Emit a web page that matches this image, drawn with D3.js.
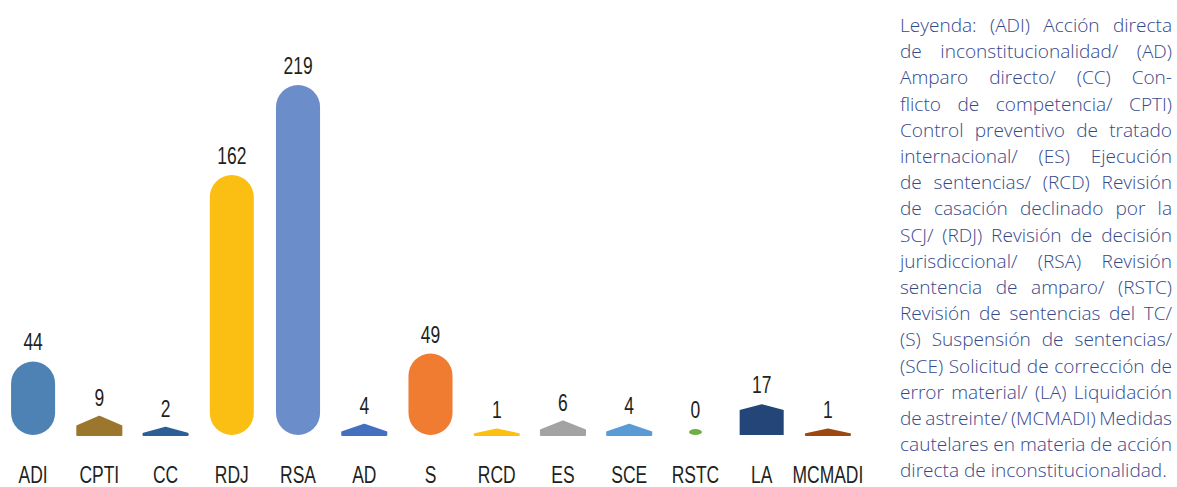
<!DOCTYPE html>
<html><head><meta charset="utf-8">
<script src="https://cdn.jsdelivr.net/npm/d3@7"></script>
<style>body{margin:0;background:#fff}svg{display:block}</style>
</head><body>
<svg id="c" width="1177" height="487"></svg>
<script>
const categories = ["ADI","CPTI","CC","RDJ","RSA","AD","S","RCD","ES","SCE","RSTC","LA","MCMADI"];
const values = [44, 9, 2, 162, 219, 4, 49, 1, 6, 4, 0, 17, 1];
const palette = ["#4e82b4","#9b772d","#2c5f96","#fbbf14","#6b8dc9","#4371c0","#ef7c31","#fdc00f","#a3a3a3","#5b9bd5","#6fad46","#244577","#9d4810"];
const legendLines = [
 "Leyenda: (ADI) Acción directa",
 "de inconstitucionalidad/ (AD)",
 "Amparo directo/ (CC) Con-",
 "flicto de competencia/ CPTI)",
 "Control preventivo de tratado",
 "internacional/ (ES) Ejecución",
 "de sentencias/ (RCD) Revisión",
 "de casación declinado por la",
 "SCJ/ (RDJ) Revisión de decisión",
 "jurisdiccional/ (RSA) Revisión",
 "sentencia de amparo/ (RSTC)",
 "Revisión de sentencias del TC/",
 "(S) Suspensión de sentencias/",
 "(SCE) Solicitud de corrección de",
 "error material/ (LA) Liquidación",
 "de astreinte/ (MCMADI) Medidas",
 "cautelares en materia de acción",
 "directa de inconstitucionalidad."
];

const svg = d3.select("#c");
const baseline = 435;
const x = d3.scaleBand().domain(categories).range([0, 861]).paddingInner(0.335).paddingOuter(0.167);
const y = d3.scaleLinear().domain([0, 219]).range([431, 85]);
const color = d3.scaleOrdinal().domain(categories).range(palette);
const data = categories.map((c, i) => ({c, v: values[i]}));
const cxOf = d => x(d.c) + x.bandwidth()/2;

function shape(d) {
  const w = x.bandwidth(), r = w / 2, cx = x(d.c) + r;
  const yt = y(d.v), h = baseline - yt;
  if (h >= w) {
    return `M${cx-r},${baseline-r}L${cx-r},${yt+r}A${r},${r} 0 0 1 ${cx+r},${yt+r}L${cx+r},${baseline-r}A${r},${r} 0 0 1 ${cx-r},${baseline-r}Z`;
  }
  const f = Math.max(0.15, Math.min(0.85, h / 38));
  const s = h * f;
  return `M${cx-r},${baseline}L${cx-r},${baseline-s}L${cx},${yt}L${cx+r},${baseline-s}L${cx+r},${baseline}Z`;
}

const g = svg.append("g");
g.selectAll("path.bar").data(data.filter(d => d.v > 0)).join("path")
  .attr("class","bar")
  .attr("d", shape)
  .attr("fill", d => color(d.c))
  .attr("stroke", d => color(d.c))
  .attr("stroke-width", d => (baseline - y(d.v)) < 30 ? 2 : 0)
  .attr("stroke-linejoin","round");
g.selectAll("ellipse").data(data.filter(d => d.v === 0)).join("ellipse")
  .attr("cx", cxOf)
  .attr("cy", baseline - 3)
  .attr("rx", 6.5).attr("ry", 3)
  .attr("fill", d => color(d.c));

const fam = "'Liberation Sans',Arial,sans-serif";
const sx = 0.76;
g.selectAll("text.val").data(data).join("text")
  .attr("class","val")
  .attr("transform", d => `translate(${cxOf(d)},${(d.v === 0 ? baseline - 6 : y(d.v)) - 11}) scale(${sx},1)`)
  .attr("text-anchor","middle")
  .attr("font-family", fam).attr("font-size", 23).attr("fill","#231f20")
  .text(d => d.v);

const xAxis = d3.axisBottom(x).tickSize(0).tickPadding(0);
const ax = svg.append("g").attr("transform", `translate(0,${baseline})`).call(xAxis);
ax.select(".domain").remove();
ax.selectAll("text").attr("font-family", fam).attr("font-size", 23).attr("fill","#231f20")
  .attr("dy", null).attr("y", 0).attr("transform", `translate(0,48) scale(${sx},1)`);

// Legend paragraph, justified
const lx0 = 900, lx1 = 1172, ly0 = 32, lstep = 26.2;
const lg = svg.append("g").attr("font-family","'Open Sans',sans-serif").attr("font-weight",300).attr("fill","#34488b");
const probe = lg.append("text").attr("font-size", 20).text(legendLines[legendLines.length-1]);
const fs = 20 * 267 / probe.node().getComputedTextLength();
probe.remove();
lg.attr("font-size", fs);
const measure = s => { const t = lg.append("text").text(s); const l = t.node().getComputedTextLength(); t.remove(); return l; };
const spaceNat = measure("a a") - measure("aa");
legendLines.forEach((line, i) => {
  const yy = ly0 + i * lstep;
  const last = i === legendLines.length - 1;
  const words = line.split(" ");
  const widths = words.map(measure);
  const total = d3.sum(widths);
  let gap = last ? spaceNat : (lx1 - lx0 - total) / Math.max(1, words.length - 1);
  let scale = 1;
  if (gap < spaceNat * 0.6) { gap = spaceNat * 0.6; scale = (lx1 - lx0 - gap*(words.length-1)) / total; }
  let cx = lx0;
  words.forEach((w, k) => {
    const tw = lg.append("text").attr("x", cx).attr("y", yy).text(w);
    if (scale < 1) tw.attr("textLength", widths[k]*scale).attr("lengthAdjust","spacingAndGlyphs");
    cx += widths[k]*scale + gap;
  });
});
</script>
</body></html>
